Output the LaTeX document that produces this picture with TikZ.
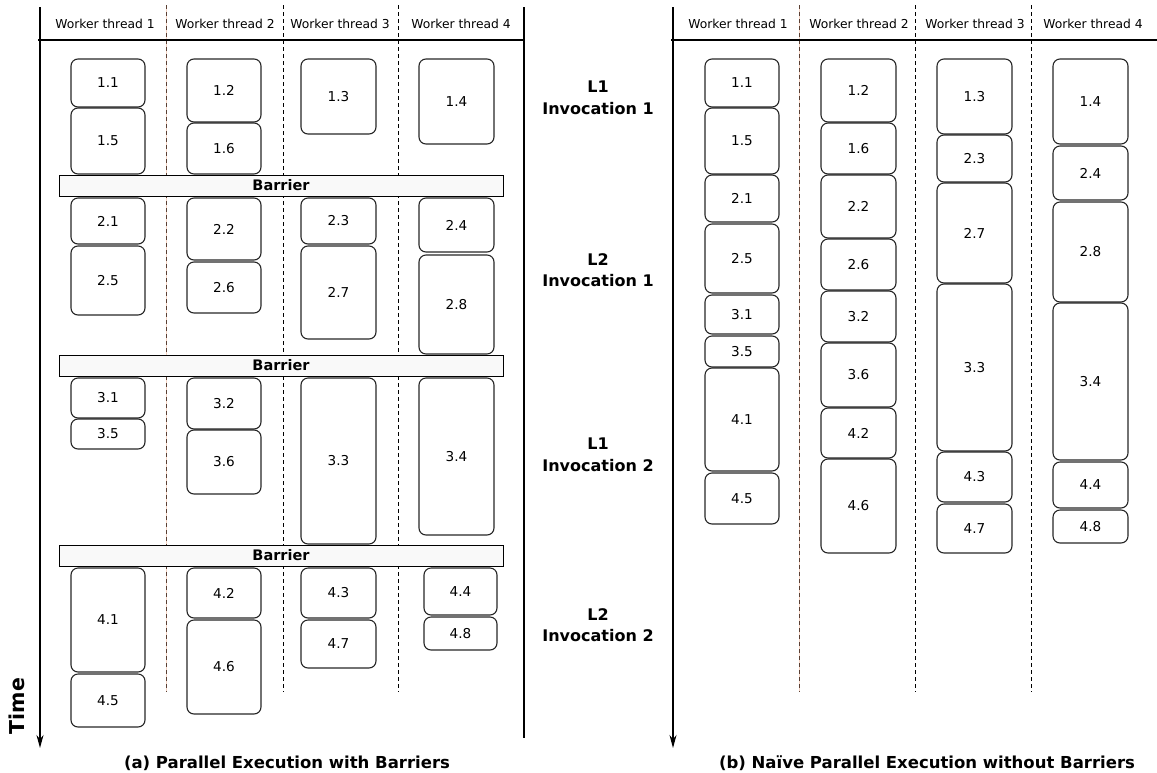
\documentclass[tikz,border=0pt]{standalone}
\usepackage{fontspec}
\setmainfont{DejaVu Sans}
\usetikzlibrary{arrows.meta}
\definecolor{sepbrown}{HTML}{5A4034}
\definecolor{seppeach}{HTML}{F5D3C3}
\definecolor{barfill}{HTML}{F9F9F9}
\tikzset{
  task/.style={draw=black!85, line width=1.1pt, rounded corners=7pt,
    inner sep=0pt, outer sep=0pt, font=\fontsize{13.6}{16}\selectfont},
  barrierbox/.style={draw, line width=0.8pt, fill=barfill, inner sep=0pt,
    outer sep=0pt, font=\bfseries\fontsize{14.5}{17}\selectfont},
  header/.style={font=\fontsize{12.3}{14}\selectfont},
  phase/.style={font=\bfseries\fontsize{16}{21.5}\selectfont, align=center},
  caption/.style={font=\bfseries\fontsize{16.5}{19}\selectfont},
  axis/.style={line width=1.2pt},
  timearrow/.style={axis, -{Stealth[length=13pt,width=7pt]}},
  sepline/.style={line width=0.9pt, dash pattern=on 4pt off 3pt},
  firstsep/.style={line width=0.9pt, dash pattern=on 4pt off 3pt, draw=sepbrown},
  peachline/.style={line width=0.9pt, draw=seppeach}
}
% \taskbox{name}{x1}{y1}{x2}{y2}{label}
\newcommand{\taskbox}[6]{%
  \node[task, minimum width={(#4)-(#2)}, minimum height={(#5)-(#3)}]
    (#1) at ({((#2)+(#4))/2},{((#3)+(#5))/2}) {#6};}
% \barrier{name}{y1}{y2}
\newcommand{\barrier}[3]{%
  \node[barrierbox, minimum width=444, minimum height={(#3)-(#2)}]
    (#1) at (281,{((#2)+(#3))/2}) {Barrier};}
\begin{document}
\begin{tikzpicture}[x=1pt, y=-1pt]
\useasboundingbox (0,0) rectangle (1157,772);

% ---------- (a) with barriers ----------
\coordinate (aTop) at (40,7);
\coordinate (aEnd) at (40,748);
\coordinate (aHL) at (38,40);
\coordinate (aHR) at (524,40);
\coordinate (aRT) at (524,7);
\coordinate (aRB) at (524,738);
\coordinate (aS1t) at (166,5); \coordinate (aS1b) at (166,692);
\coordinate (aS2t) at (283,5); \coordinate (aS2b) at (283,692);
\coordinate (aS3t) at (398,5); \coordinate (aS3b) at (398,692);

\draw[peachline] (aS1t) -- (aS1b);
\draw[firstsep] (aS1t) -- (aS1b);
\draw[sepline] (aS2t) -- (aS2b);
\draw[sepline] (aS3t) -- (aS3b);
\draw[axis] (aHL) -- (aHR);
\draw[axis] (aRT) -- (aRB);
\draw[timearrow] (aTop) -- (aEnd);

\node[header] (ah1) at (105,24) {Worker thread 1};
\node[header] (ah2) at (225,24) {Worker thread 2};
\node[header] (ah3) at (340,24) {Worker thread 3};
\node[header] (ah4) at (461,24) {Worker thread 4};

% phase 1
\taskbox{a11}{71}{59}{145}{107}{1.1}
\taskbox{a15}{71}{108}{145}{174}{1.5}
\taskbox{a12}{187}{59}{261}{122}{1.2}
\taskbox{a16}{187}{123}{261}{174}{1.6}
\taskbox{a13}{301}{59}{376}{134}{1.3}
\taskbox{a14}{419}{59}{494}{144}{1.4}
\barrier{bar1}{175}{196}
% phase 2
\taskbox{a21}{71}{198}{145}{244}{2.1}
\taskbox{a25}{71}{246}{145}{315}{2.5}
\taskbox{a22}{187}{198}{261}{260}{2.2}
\taskbox{a26}{187}{262}{261}{313}{2.6}
\taskbox{a23}{301}{198}{376}{244}{2.3}
\taskbox{a27}{301}{246}{376}{339}{2.7}
\taskbox{a24}{419}{198}{494}{252}{2.4}
\taskbox{a28}{419}{255}{494}{354}{2.8}
\barrier{bar2}{355}{376}
% phase 3
\taskbox{a31}{71}{378}{145}{418}{3.1}
\taskbox{a35}{71}{419}{145}{449}{3.5}
\taskbox{a32}{187}{378}{261}{429}{3.2}
\taskbox{a36}{187}{430}{261}{494}{3.6}
\taskbox{a33}{301}{378}{376}{544}{3.3}
\taskbox{a34}{419}{378}{494}{535}{3.4}
\barrier{bar3}{545}{566}
% phase 4
\taskbox{a41}{71}{568}{145}{672}{4.1}
\taskbox{a45}{71}{674}{145}{727}{4.5}
\taskbox{a42}{187}{568}{261}{618}{4.2}
\taskbox{a46}{187}{620}{261}{714}{4.6}
\taskbox{a43}{301}{568}{376}{618}{4.3}
\taskbox{a47}{301}{620}{376}{668}{4.7}
\taskbox{a44}{424}{568}{497}{615}{4.4}
\taskbox{a48}{424}{617}{497}{650}{4.8}

\node[rotate=90, font=\bfseries\fontsize{20.5}{24}\selectfont] (time) at (17,706) {Time};
\node[caption] (capa) at (287,763) {(a) Parallel Execution with Barriers};

% ---------- phase labels ----------
\node[phase] (p1) at (598,98) {L1\\Invocation 1};
\node[phase] (p2) at (598,270) {L2\\Invocation 1};
\node[phase] (p3) at (598,455) {L1\\Invocation 2};
\node[phase] (p4) at (598,625) {L2\\Invocation 2};

% ---------- (b) without barriers ----------
\coordinate (bTop) at (673,7);
\coordinate (bEnd) at (673,748);
\coordinate (bHL) at (671,40);
\coordinate (bHR) at (1157,40);
\coordinate (bS1t) at (799,5); \coordinate (bS1b) at (799,692);
\coordinate (bS2t) at (915,5); \coordinate (bS2b) at (915,692);
\coordinate (bS3t) at (1031,5); \coordinate (bS3b) at (1031,692);

\draw[peachline] (bS1t) -- (bS1b);
\draw[firstsep] (bS1t) -- (bS1b);
\draw[sepline] (bS2t) -- (bS2b);
\draw[sepline] (bS3t) -- (bS3b);
\draw[axis] (bHL) -- (bHR);
\draw[timearrow] (bTop) -- (bEnd);

\node[header] (bh1) at (738,24) {Worker thread 1};
\node[header] (bh2) at (859,24) {Worker thread 2};
\node[header] (bh3) at (975,24) {Worker thread 3};
\node[header] (bh4) at (1093,24) {Worker thread 4};

% thread 1
\taskbox{b11}{705}{59}{779}{107}{1.1}
\taskbox{b15}{705}{108}{779}{174}{1.5}
\taskbox{b21}{705}{175}{779}{222}{2.1}
\taskbox{b25}{705}{224}{779}{293}{2.5}
\taskbox{b31}{705}{295}{779}{334}{3.1}
\taskbox{b35}{705}{336}{779}{367}{3.5}
\taskbox{b41}{705}{368}{779}{471}{4.1}
\taskbox{b45}{705}{473}{779}{524}{4.5}
% thread 2
\taskbox{b12}{821}{59}{896}{122}{1.2}
\taskbox{b16}{821}{123}{896}{174}{1.6}
\taskbox{b22}{821}{175}{896}{238}{2.2}
\taskbox{b26}{821}{239}{896}{290}{2.6}
\taskbox{b32}{821}{291}{896}{342}{3.2}
\taskbox{b36}{821}{343}{896}{407}{3.6}
\taskbox{b42}{821}{408}{896}{458}{4.2}
\taskbox{b46}{821}{459}{896}{553}{4.6}
% thread 3
\taskbox{b13}{937}{59}{1012}{134}{1.3}
\taskbox{b23}{937}{135}{1012}{182}{2.3}
\taskbox{b27}{937}{183}{1012}{283}{2.7}
\taskbox{b33}{937}{284}{1012}{451}{3.3}
\taskbox{b43}{937}{452}{1012}{502}{4.3}
\taskbox{b47}{937}{504}{1012}{553}{4.7}
% thread 4
\taskbox{b14}{1053}{59}{1128}{144}{1.4}
\taskbox{b24}{1053}{146}{1128}{200}{2.4}
\taskbox{b28}{1053}{202}{1128}{302}{2.8}
\taskbox{b34}{1053}{303}{1128}{460}{3.4}
\taskbox{b44}{1053}{462}{1128}{508}{4.4}
\taskbox{b48}{1053}{510}{1128}{543}{4.8}

\node[caption] (capb) at (927,763) {(b) Naïve Parallel Execution without Barriers};
\end{tikzpicture}
\end{document}
